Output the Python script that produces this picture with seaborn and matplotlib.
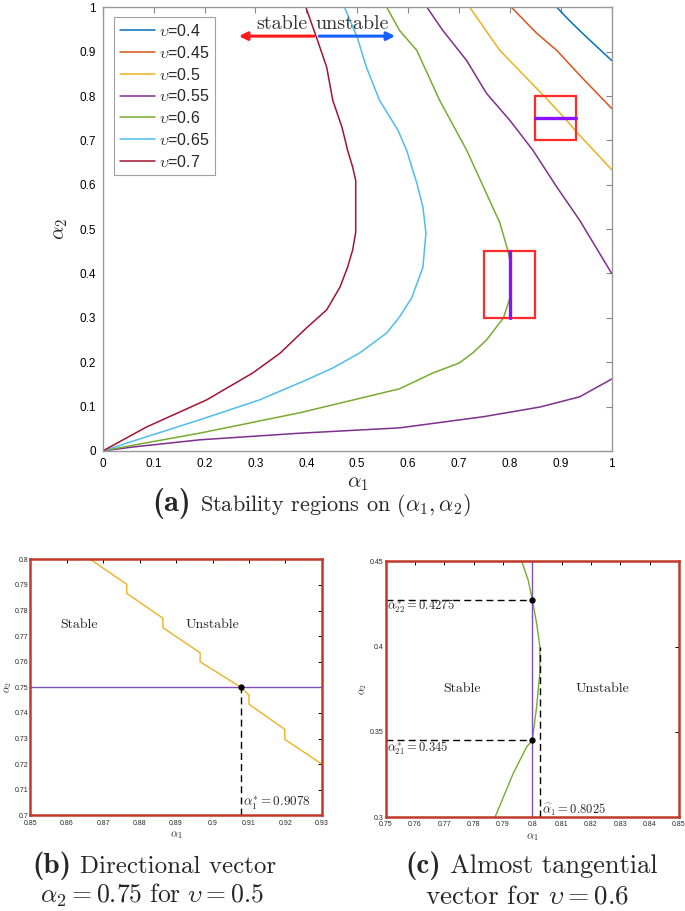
import numpy as np
import pandas as pd
import matplotlib as mpl
import matplotlib.pyplot as plt
import seaborn as sns
from matplotlib.patches import Rectangle

sns.set_style('white')
plt.rcParams['font.family'] = ['Liberation Sans', 'DejaVu Sans']
plt.rcParams['mathtext.fontset'] = 'cm'

###############################################################################
# values
nu_labels = ['0.4', '0.45', '0.5', '0.55', '0.6', '0.65', '0.7']
nu_colors = ['#0072BD', '#D95319', '#EDB120', '#7E2F8E', '#77AC30', '#4DBEEE', '#A2142F']

a1_040 = [0.892, 0.917, 0.943, 0.97, 1.0]
a2_040 = [1.0, 0.97, 0.941, 0.912, 0.88]

a1_045 = [0.803, 0.853, 0.892, 0.937, 1.0]
a2_045 = [1.0, 0.941, 0.903, 0.847, 0.772]

a1_050 = [0.721, 0.78, 0.867, 0.9078, 0.93, 1.0]
a2_050 = [1.0, 0.903, 0.80, 0.75, 0.72, 0.634]

# two branches for 0.55
a1_055_lo = [0.0, 0.06, 0.19, 0.387, 0.583, 0.747, 0.859, 0.937, 1.0]
a2_055_lo = [0.0, 0.009, 0.025, 0.04, 0.052, 0.077, 0.099, 0.122, 0.162]
a1_055_hi = [0.637, 0.668, 0.715, 0.754, 0.80, 0.845, 0.892, 0.937, 1.0]
a2_055_hi = [1.0, 0.948, 0.88, 0.806, 0.745, 0.678, 0.595, 0.52, 0.40]

a1_060 = [0.0, 0.06, 0.19, 0.387, 0.583, 0.649, 0.70, 0.727, 0.754, 0.7873, 0.80,
          0.8026, 0.80, 0.7964, 0.78, 0.76, 0.715, 0.662, 0.617, 0.583, 0.558]
a2_060 = [0.0, 0.013, 0.04, 0.086, 0.14, 0.176, 0.198, 0.221, 0.25, 0.30, 0.345,
          0.385, 0.4275, 0.45, 0.515, 0.565, 0.678, 0.79, 0.903, 0.948, 1.0]

a1_065 = [0.0, 0.067, 0.19, 0.308, 0.40, 0.452, 0.505, 0.558, 0.583, 0.607, 0.629,
          0.635, 0.629, 0.617, 0.597, 0.58, 0.544, 0.518, 0.50, 0.475]
a2_065 = [0.0, 0.025, 0.07, 0.115, 0.16, 0.187, 0.221, 0.266, 0.302, 0.345, 0.414,
          0.491, 0.55, 0.604, 0.678, 0.723, 0.79, 0.865, 0.932, 1.0]

a1_070 = [0.0, 0.086, 0.204, 0.295, 0.348, 0.40, 0.44, 0.466, 0.481, 0.491, 0.497,
          0.497, 0.491, 0.481, 0.47, 0.452, 0.44, 0.42, 0.399]
a2_070 = [0.0, 0.054, 0.115, 0.176, 0.22, 0.277, 0.318, 0.369, 0.414, 0.453, 0.493,
          0.61, 0.64, 0.678, 0.73, 0.79, 0.865, 0.932, 1.0]

# zoom (b): staircase contour for 0.5
b_a1 = [0.8665, 0.8765, 0.8765, 0.8864, 0.8864, 0.8966, 0.8966, 0.9078, 0.9100,
        0.9100, 0.9198, 0.9198, 0.93]
b_a2 = [0.80, 0.7902, 0.7867, 0.7770, 0.7733, 0.7635, 0.7600, 0.75, 0.747,
        0.7434, 0.7336, 0.7297, 0.72]
b_dir = 0.75
b_star = 0.9078

# zoom (c): contour for 0.6
c_a1 = [0.7873, 0.7935, 0.7981, 0.80, 0.8015, 0.8026, 0.8026, 0.8015, 0.80,
        0.7986, 0.7964]
c_a2 = [0.30, 0.3256, 0.3412, 0.345, 0.3647, 0.385, 0.40, 0.4135, 0.4275,
        0.4389, 0.45]
c_dir = 0.80
c_star21 = 0.345
c_star22 = 0.4275
c_hat = 0.8025

main_ticks = [0, 0.1, 0.2, 0.3, 0.4, 0.5, 0.6, 0.7, 0.8, 0.9, 1]
main_ticklabels = ['0', '0.1', '0.2', '0.3', '0.4', '0.5', '0.6', '0.7', '0.8', '0.9', '1']
b_xticks = [0.85, 0.86, 0.87, 0.88, 0.89, 0.90, 0.91, 0.92, 0.93]
b_xticklabels = ['0.85', '0.86', '0.87', '0.88', '0.89', '0.9', '0.91', '0.92', '0.93']
b_yticks = [0.70, 0.71, 0.72, 0.73, 0.74, 0.75, 0.76, 0.77, 0.78, 0.79, 0.80]
b_yticklabels = ['0.7', '0.71', '0.72', '0.73', '0.74', '0.75', '0.76', '0.77', '0.78', '0.79', '0.8']
c_xticks = [0.75, 0.76, 0.77, 0.78, 0.79, 0.80, 0.81, 0.82, 0.83, 0.84, 0.85]
c_xticklabels = ['0.75', '0.76', '0.77', '0.78', '0.79', '0.8', '0.81', '0.82', '0.83', '0.84', '0.85']
c_yticks = [0.30, 0.35, 0.40, 0.45]
c_yticklabels = ['0.3', '0.35', '0.4', '0.45']

###############################################################################
fig = plt.figure(figsize=(6.85, 9.11), dpi=100)
ax = fig.add_axes([0.150, 0.505, 0.743, 0.487])

curves = [(a1_040, a2_040), (a1_045, a2_045), (a1_050, a2_050), (a1_055_lo, a2_055_lo),
          (a1_060, a2_060), (a1_065, a2_065), (a1_070, a2_070)]
for (xs, ys), lab, col in zip(curves, nu_labels, nu_colors):
    sns.lineplot(x=xs, y=ys, sort=False, estimator=None, color=col, lw=1.1,
                 label=r'$\upsilon$=' + lab, ax=ax)
sns.lineplot(x=a1_055_hi, y=a2_055_hi, sort=False, estimator=None, color=nu_colors[3],
             lw=1.1, ax=ax)

# zoom boxes + direction vectors
ax.add_patch(Rectangle((0.85, 0.70), 0.08, 0.10, fill=False, ec='#FF2A2A', lw=1.6, zorder=5))
ax.add_patch(Rectangle((0.75, 0.30), 0.10, 0.15, fill=False, ec='#FF2A2A', lw=1.6, zorder=5))
ax.plot([0.85, 0.93], [b_dir, b_dir], color='#8B10FF', lw=2.4, zorder=6)
ax.plot([c_dir, c_dir], [0.30, 0.45], color='#8B10FF', lw=2.4, zorder=6)

# stable / unstable arrows
ax.annotate('', xy=(0.262, 0.935), xytext=(0.42, 0.935),
            arrowprops=dict(arrowstyle='-|>', color='#FF1A1A', lw=2.2, mutation_scale=12))
ax.annotate('', xy=(0.58, 0.935), xytext=(0.42, 0.935),
            arrowprops=dict(arrowstyle='-|>', color='#1560FF', lw=2.2, mutation_scale=12))
ax.text(0.352, 0.962, 'stable', family='cmr10', fontsize=14.5, ha='center', va='center', color='#333333')
ax.text(0.491, 0.962, 'unstable', family='cmr10', fontsize=14.5, ha='center', va='center', color='#333333')

ax.set_xlim(0, 1)
ax.set_ylim(0, 1)
ax.set_xticks(main_ticks)
ax.set_xticklabels(main_ticklabels)
ax.set_yticks(main_ticks)
ax.set_yticklabels(main_ticklabels)
ax.tick_params(direction='in', top=True, right=True, length=4, width=0.8, color='#888888',
               labelsize=8.5, pad=5, labelcolor='black')
for s in ax.spines.values():
    s.set_color('#999999')
    s.set_linewidth(1.0)
ax.set_xlabel(r'$\alpha_1$', fontsize=15, labelpad=3)
ax.set_ylabel(r'$\alpha_2$', fontsize=15, labelpad=7)

leg = ax.legend(loc='upper left', bbox_to_anchor=(0.022, 0.977), fontsize=11.5, frameon=True,
                fancybox=False, edgecolor='#888888', handlelength=2.2, handletextpad=0.25,
                labelspacing=0.36, borderpad=0.35, borderaxespad=0)
leg.get_frame().set_linewidth(0.8)

###############################################################################
frame_red = '#C0392B'

def style_inset(a, xt, xtl, yt, ytl):
    a.set_xticks(xt)
    a.set_xticklabels(xtl)
    a.set_yticks(yt)
    a.set_yticklabels(ytl)
    a.set_xlim(xt[0], xt[-1])
    a.set_ylim(yt[0], yt[-1])
    a.tick_params(direction='in', top=True, right=True, length=3, width=0.7, color='black',
                  labelsize=5, pad=1.5)
    a.tick_params(axis='x', pad=3)
    for s in a.spines.values():
        s.set_color(frame_red)
        s.set_linewidth(1.8)
    a.set_xlabel(r'$\alpha_1$', fontsize=8, labelpad=2)
    a.set_ylabel(r'$\alpha_2$', fontsize=7.5, labelpad=0.5)

# (b)
axb = fig.add_axes([0.044, 0.105, 0.426, 0.281])
sns.lineplot(x=b_a1, y=b_a2, sort=False, estimator=None, color='#EDB120', lw=1.0, ax=axb)
axb.axhline(b_dir, color='#7E4FC0', lw=1.0)
axb.plot([b_star, b_star], [0.70, b_dir], color='black', lw=1.0, ls=(0, (5, 3)))
axb.plot([b_star], [b_dir], 'o', color='black', ms=3.5)
axb.text(b_star + 0.0005, 0.7045, r'$\alpha_1^{*} = 0.9078$', family='cmr10', fontsize=9.5,
         ha='left', va='center')
axb.text(0.8635, 0.7745, 'Stable', family='cmr10', fontsize=10, ha='center', va='center')
axb.text(0.9, 0.7745, 'Unstable', family='cmr10', fontsize=10, ha='center', va='center')
style_inset(axb, b_xticks, b_xticklabels, b_yticks, b_yticklabels)

# (c)
axc = fig.add_axes([0.563, 0.103, 0.428, 0.281])
sns.lineplot(x=c_a1, y=c_a2, sort=False, estimator=None, color='#77AC30', lw=1.0, ax=axc)
axc.axvline(c_dir, color='#7E4FC0', lw=1.0)
axc.plot([0.75, c_dir], [c_star22, c_star22], color='black', lw=1.0, ls=(0, (5, 3)))
axc.plot([0.75, c_dir], [c_star21, c_star21], color='black', lw=1.0, ls=(0, (5, 3)))
axc.plot([c_hat, c_hat], [0.30, 0.40], color='black', lw=1.0, ls=(0, (5, 3)))
axc.plot([c_dir, c_dir], [c_star21, c_star22], 'o', color='black', ms=3.5)
axc.text(0.7505, 0.4235, r'$\alpha_{22}^{*} = 0.4275$', family='cmr10', fontsize=9,
         ha='left', va='center')
axc.text(0.7505, 0.3405, r'$\alpha_{21}^{*} = 0.345$', family='cmr10', fontsize=9,
         ha='left', va='center')
axc.text(c_hat + 0.0007, 0.3045, r'$\widehat{\alpha}_1 = 0.8025$', family='cmr10', fontsize=9,
         ha='left', va='center')
axc.text(0.776, 0.375, 'Stable', family='cmr10', fontsize=10, ha='center', va='center')
axc.text(0.824, 0.375, 'Unstable', family='cmr10', fontsize=10, ha='center', va='center')
style_inset(axc, c_xticks, c_xticklabels, c_yticks, c_yticklabels)

###############################################################################
# sub-figure captions: bold tag + serif text
def caption(x_text, y, tag, text, tag_size, text_size):
    fig.text(x_text - 9 / 685, y, tag, family='cmb10', fontsize=tag_size, ha='right', va='baseline')
    fig.text(x_text, y, text, family='cmr10', fontsize=text_size, ha='left', va='baseline')

caption(200 / 685, 1 - 511 / 911, '(a)', r'Stability regions on $(\alpha_1, \alpha_2)$', 22, 16)
caption(80 / 685, 1 - 873 / 911, '(b)', 'Directional vector', 21, 18)
caption(450 / 685, 1 - 873 / 911, '(c)', 'Almost tangential', 21, 19)
fig.text(152 / 685, 1 - 903 / 911, r'$\alpha_2 = 0.75\ \mathrm{for}\ \upsilon = 0.5$',
         fontsize=18.5, ha='center', va='baseline')
fig.text(527 / 685, 1 - 903 / 911, r'vector for $\upsilon = 0.6$', family='cmr10',
         fontsize=19.5, ha='center', va='baseline')

fig.savefig('out.png', dpi=100)
